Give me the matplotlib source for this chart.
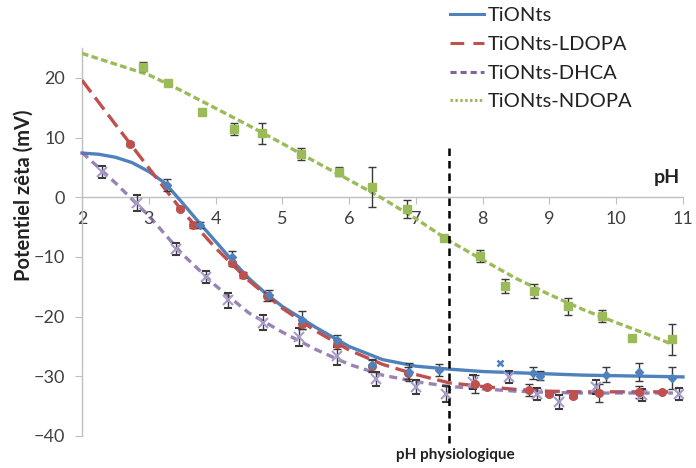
import matplotlib
matplotlib.use('Agg')
import matplotlib.pyplot as plt
from matplotlib.lines import Line2D

plt.rcParams['font.family'] = ['Lato', 'DejaVu Sans']

# ---------------- data ----------------
labels = ['TiONts', 'TiONts-LDOPA', 'TiONts-DHCA', 'TiONts-NDOPA']

# measured points
blue_ph = [3.27, 3.77, 4.25, 4.80, 5.29, 5.82, 6.34, 6.90, 7.34, 8.75, 8.86, 9.84, 10.34, 10.83]
blue_v = [2.0, -4.7, -10.0, -16.4, -20.6, -24.0, -28.1, -29.3, -29.0, -29.5, -29.9, -29.7, -29.3, -30.3]
blue_err = [1.0, 0.5, 1.0, 0.8, 1.5, 1.0, 1.0, 1.5, 1.0, 1.0, 0.8, 1.3, 1.5, 1.8]
blue_out_ph = [8.26]
blue_out_v = [-27.7]

red_ph = [2.72, 3.47, 3.66, 4.24, 4.41, 4.77, 5.29, 5.82, 6.34, 6.88, 7.88, 8.06, 8.69, 9.00, 9.35, 9.74, 10.34, 10.68]
red_v = [8.9, -1.9, -4.6, -11.1, -13.1, -16.6, -21.2, -24.6, -28.3, -29.5, -31.3, -31.8, -32.3, -33.0, -33.3, -32.8, -32.7, -32.6]
red_err = [0.3, 0.3, 0.5, 0.5, 0.5, 0.8, 0.8, 0.8, 1.0, 1.0, 1.5, 0.3, 1.0, 0.3, 0.3, 1.5, 1.0, 0.0]

pur_ph = [2.30, 2.82, 3.41, 3.86, 4.19, 4.71, 5.25, 5.82, 6.40, 7.00, 7.45, 7.85, 8.40, 8.81, 9.14, 9.69, 10.38, 10.94]
pur_v = [4.2, -1.0, -8.7, -13.3, -17.3, -21.0, -23.4, -26.6, -30.5, -31.8, -33.0, -30.9, -30.1, -33.0, -34.3, -31.8, -33.2, -32.9]
pur_err = [1.0, 1.3, 1.0, 1.0, 1.2, 1.2, 1.5, 1.5, 1.2, 1.2, 1.3, 1.2, 1.0, 1.0, 1.2, 1.2, 1.0, 1.0]

grn_ph = [2.91, 3.29, 3.80, 4.28, 4.69, 5.28, 5.85, 6.34, 6.86, 7.42, 7.96, 8.33, 8.77, 9.28, 9.78, 10.23, 10.83]
grn_v = [21.9, 19.1, 14.2, 11.5, 10.7, 7.2, 4.3, 1.7, -2.0, -6.9, -9.8, -14.9, -15.7, -18.3, -19.9, -23.5, -23.8]
grn_err = [0.8, 0.3, 0.3, 1.0, 1.8, 1.0, 0.8, 3.4, 1.5, 0.3, 1.0, 1.2, 1.2, 1.5, 1.0, 0.0, 2.6]

# trend lines
blue_fit_ph = [2.0, 2.25, 2.5, 2.75, 3.0, 3.25, 3.5, 3.75, 4.0, 4.25, 4.5, 4.75, 5.0, 5.5, 6.0, 6.5, 7.0, 7.5, 8.0, 8.5, 9.0, 9.5, 10.0, 10.5, 11.0]
blue_fit_v = [7.4, 7.2, 6.7, 5.8, 4.3, 2.3, -0.9, -4.2, -7.4, -10.6, -13.6, -16.1, -18.3, -21.8, -25.0, -27.2, -28.3, -28.8, -29.2, -29.4, -29.6, -29.8, -29.9, -30.0, -30.1]

red_fit_ph = [2.0, 2.5, 3.0, 3.5, 4.0, 4.5, 5.0, 5.5, 6.0, 6.5, 7.0, 7.5, 8.0, 8.5, 9.0, 9.5, 10.0, 10.5, 10.85]
red_fit_v = [19.6, 12.2, 4.9, -2.3, -8.5, -14.0, -18.6, -22.4, -25.6, -28.0, -29.7, -31.1, -31.7, -32.2, -32.5, -32.6, -32.6, -32.6, -32.6]

pur_fit_ph = [2.0, 2.5, 3.0, 3.5, 4.0, 4.5, 5.0, 5.5, 6.0, 6.5, 7.0, 7.5, 8.0, 8.5, 9.0, 9.5, 10.0, 10.5, 10.85]
pur_fit_v = [7.5, 2.4, -3.1, -9.5, -14.8, -19.4, -22.6, -25.5, -28.0, -29.8, -30.9, -31.7, -32.1, -32.5, -32.7, -32.8, -32.8, -32.8, -32.8]

grn_fit_ph = [2.0, 2.5, 3.0, 3.5, 4.0, 4.5, 5.0, 5.5, 6.0, 6.5, 7.0, 7.5, 8.0, 8.5, 9.0, 9.5, 10.0, 10.5, 10.85]
grn_fit_v = [24.1, 22.3, 20.5, 17.8, 14.9, 12.0, 9.0, 5.9, 2.9, -0.2, -3.6, -7.3, -10.5, -13.6, -16.3, -18.8, -21.0, -23.1, -24.7]

x_ticks = [2, 3, 4, 5, 6, 7, 8, 9, 10, 11]
y_ticks = [-40, -30, -20, -10, 0, 10, 20]
phys_ph = 7.5

# ---------------- styles ----------------
c_blue, c_red, c_pur, c_grn = '#4F81BD', '#C0504D', '#8064A2', '#9BBB59'
c_pur_mk = '#A99BC9'
err_col = '#3A3A3A'
axis_col = '#BFBFBF'
txt_col = '#404040'

fig = plt.figure(figsize=(6.96, 4.68), dpi=100)
ax = fig.add_axes([82 / 696, 32 / 468, 601 / 696, 388 / 468])
ax.set_xlim(2, 11)
ax.set_ylim(-40, 25)

for s in ['top', 'right']:
    ax.spines[s].set_visible(False)
ax.spines['bottom'].set_position(('data', 0))
ax.spines['bottom'].set_color(axis_col)
ax.spines['left'].set_color(axis_col)
ax.spines['bottom'].set_linewidth(1.0)
ax.spines['left'].set_linewidth(1.0)

ax.set_xticks(x_ticks)
ax.set_yticks(y_ticks)
ax.tick_params(axis='x', direction='out', length=5, color=axis_col, labelsize=13,
               pad=5, labelcolor=txt_col)
ax.tick_params(axis='y', direction='out', length=5, color=axis_col, labelsize=13,
               pad=7, labelcolor=txt_col)

# trend lines
lw = 2.4
ax.plot(blue_fit_ph, blue_fit_v, color=c_blue, lw=lw, zorder=3, clip_on=False)
ax.plot(red_fit_ph, red_fit_v, color=c_red, lw=lw, ls=(0, (4.5, 2)), zorder=3)
ax.plot(pur_fit_ph, pur_fit_v, color=c_pur, lw=lw, ls=(0, (2.4, 1.6)), zorder=3, alpha=0.8)
ax.plot(grn_fit_ph, grn_fit_v, color=c_grn, lw=lw, ls=(0, (2, 1)), zorder=3)

# data points with error bars
ekw = dict(ecolor=err_col, elinewidth=1.0, capsize=3, capthick=1.0, ls='none', zorder=4)
ax.errorbar(grn_ph, grn_v, yerr=grn_err, marker='s', ms=5.5, mfc=c_grn, mec=c_grn, **ekw)
ax.errorbar(pur_ph, pur_v, yerr=pur_err, marker='x', ms=6.5, mew=1.5, mfc=c_pur_mk, mec=c_pur_mk, **ekw)
ax.errorbar(red_ph, red_v, yerr=red_err, marker='o', ms=5.5, mfc=c_red, mec=c_red, **ekw)
ax.errorbar(blue_ph, blue_v, yerr=blue_err, marker='D', ms=4.5, mfc=c_blue, mec=c_blue, **ekw)
ax.plot(blue_out_ph, blue_out_v, ls='none', marker='x', ms=4, mew=1.8, color=c_blue, zorder=4)

# physiological pH line
ax.plot([phys_ph, phys_ph], [8.3, -41.2], color='black', lw=1.8, ls=(0, (3, 2)),
        zorder=5, clip_on=False)

# texts
fig.text(455 / 696, 1 - 455 / 468, 'pH physiologique', ha='center', va='center',
         fontsize=11, fontweight='bold', color='#222222')
fig.text(667 / 696, 1 - 177 / 468, 'pH', ha='center', va='center',
         fontsize=14, fontweight='bold', color='#222222')
fig.text(24 / 696, 1 - 195 / 468, 'Potentiel zêta (mV)', ha='center', va='center',
         rotation=90, fontsize=14.5, fontweight='bold', color='#222222')

# legend
handles = [
    Line2D([], [], color=c_blue, lw=2.2),
    Line2D([], [], color=c_red, lw=2.2, ls=(0, (4.5, 3))),
    Line2D([], [], color=c_pur, lw=2.2, ls=(0, (2, 1.3))),
    Line2D([], [], color=c_grn, lw=2.2, ls=(0, (0.8, 0.8))),
]
fig.legend(handles, labels, loc='upper left', bbox_to_anchor=(450 / 696, 1 - 7 / 468),
           frameon=False, fontsize=14.5, handlelength=1.7, handletextpad=0.15,
           labelspacing=0.58, borderpad=0, borderaxespad=0, labelcolor='#222222')

fig.savefig('out.png', dpi=100)
